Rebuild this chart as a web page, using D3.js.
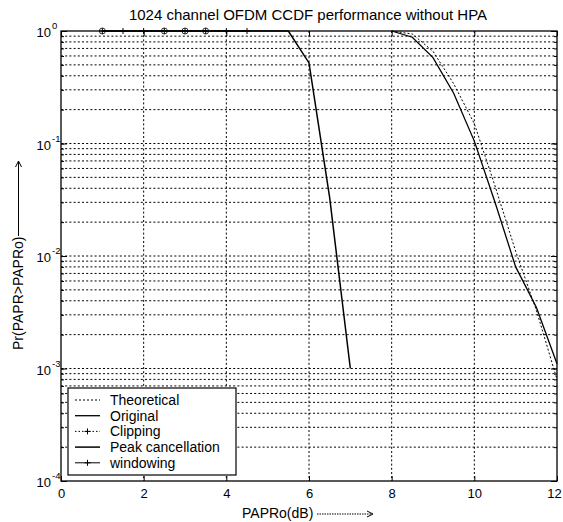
<!DOCTYPE html>
<html lang="en">
<head>
<meta charset="UTF-8">
<title>1024 channel OFDM CCDF performance without HPA</title>
<script src="https://d3js.org/d3.v7.min.js"></script>
<style>
    body { margin: 0; background: #fff; }
    svg text { font-family: "Liberation Sans", Arial, sans-serif; fill: #000; }
    .grid line { stroke: #000; stroke-width: 1; stroke-dasharray: 2,2.2; }
</style>
</head>
<body>
<svg id="chart" width="563" height="522"></svg>
<script>
// values (PAPRo in dB, probability)
const xPeak = [1, 1.5, 2, 2.5, 3, 3.5, 4, 4.5, 5, 5.5, 6, 6.5, 7];
const yPeak = [1, 1, 1, 1, 1, 1, 1, 1, 1, 1, 0.52, 0.033, 0.001];

const xClip = [1, 1.5, 2, 2.5, 3, 3.5, 4, 4.5];
const yClip = [1, 1, 1, 1, 1, 1, 1, 1];

const xWin = [1, 1.5, 2, 2.5, 3, 3.5, 4, 4.5];
const yWin = [1, 1, 1, 1, 1, 1, 1, 1];

const xOrig = [8, 8.5, 9, 9.5, 10, 10.5, 11, 11.5, 12];
const yOrig = [1, 0.88, 0.58, 0.28, 0.105, 0.03, 0.008, 0.0035, 0.0011];

const xTheo = [8, 8.5, 9, 9.5, 10, 10.5, 11, 11.5, 12];
const yTheo = [1, 0.94, 0.66, 0.34, 0.15, 0.042, 0.011, 0.0033, 0.0008];

const xTicks = [0, 2, 4, 6, 8, 10, 12];
const yDecades = [0, -1, -2, -3, -4];
const legendNames = ["Theoretical", "Original", "Clipping", "Peak cancellation", "windowing"];

const svg = d3.select("#chart");
const pLeft = 61, pRight = 557, pTop = 31, pBottom = 481;

const x = d3.scaleLinear().domain([0, 12]).range([pLeft, pRight]);
const y = d3.scaleLog().domain([1e-4, 1]).range([pBottom, pTop]);

// minor log ticks
const minor = [];
for (let k = -4; k < 0; k++) {
    for (let m = 1; m < 10; m++) minor.push(m * Math.pow(10, k));
}
minor.push(1);

// grid
const grid = svg.append("g").attr("class", "grid");
grid.selectAll("line.h").data(minor.filter(v => v > 1e-4 && v < 1)).enter().append("line")
    .attr("x1", pLeft).attr("x2", pRight)
    .attr("y1", d => y(d)).attr("y2", d => y(d));
grid.selectAll("line.v").data(xTicks.slice(1, -1)).enter().append("line")
    .attr("y1", pTop).attr("y2", pBottom)
    .attr("x1", d => x(d)).attr("x2", d => x(d));

// axes with ticks on all sides
const axB = d3.axisBottom(x).tickValues(xTicks).tickSize(-5).tickPadding(8).tickFormat(d3.format("d"));
const axT = d3.axisTop(x).tickValues(xTicks).tickSize(-5).tickFormat("");
const gB = svg.append("g").attr("transform", `translate(0,${pBottom})`).call(axB);
svg.append("g").attr("transform", `translate(0,${pTop})`).call(axT);

const axL = d3.axisLeft(y).tickValues(minor).tickSize(-3).tickFormat("");
const axR = d3.axisRight(y).tickValues(minor).tickSize(-3).tickFormat("");
svg.append("g").attr("transform", `translate(${pLeft},0)`).call(axL);
svg.append("g").attr("transform", `translate(${pRight},0)`).call(axR);
const majL = d3.axisLeft(y).tickValues(yDecades.map(k => Math.pow(10, k))).tickSize(-6).tickFormat("");
const majR = d3.axisRight(y).tickValues(yDecades.map(k => Math.pow(10, k))).tickSize(-6).tickFormat("");
svg.append("g").attr("transform", `translate(${pLeft},0)`).call(majL);
svg.append("g").attr("transform", `translate(${pRight},0)`).call(majR);

svg.selectAll(".domain").remove();
svg.selectAll(".tick line").attr("stroke", "#000");
gB.selectAll("text").attr("font-size", 13).attr("fill", "#000")
    .style("font-family", "'Liberation Sans', Arial, sans-serif")
    .attr("dx", d => d === 12 ? -3 : 0);

// y tick labels 10^k
const yl = svg.append("g");
yDecades.forEach(k => {
    yl.append("text").attr("x", 51).attr("y", y(Math.pow(10, k)) + 6)
        .attr("text-anchor", "end").attr("font-size", 13).text("10");
    yl.append("text").attr("x", 52).attr("y", y(Math.pow(10, k)) - 2)
        .attr("font-size", 9.5).text(k);
});

// frame
svg.append("rect").attr("x", pLeft).attr("y", pTop)
    .attr("width", pRight - pLeft).attr("height", pBottom - pTop)
    .attr("fill", "none").attr("stroke", "#000").attr("stroke-width", 1.3);

// curves
const line = d3.line().x(d => x(d[0])).y(d => y(d[1]));
const zip = (a, b) => a.map((v, i) => [v, b[i]]);

const plot = svg.append("g");
plot.append("path").datum(zip(xTheo, yTheo)).attr("d", line)
    .attr("fill", "none").attr("stroke", "#000").attr("stroke-width", 1).attr("stroke-dasharray", "2,2");
plot.append("path").datum(zip(xOrig, yOrig)).attr("d", line)
    .attr("fill", "none").attr("stroke", "#000").attr("stroke-width", 1.3);
plot.append("path").datum(zip(xPeak, yPeak)).attr("d", line)
    .attr("fill", "none").attr("stroke", "#000").attr("stroke-width", 1.5);
plot.append("path").datum(zip(xClip, yClip)).attr("d", line)
    .attr("fill", "none").attr("stroke", "#000").attr("stroke-width", 1).attr("stroke-dasharray", "2,2");
plot.append("path").datum(zip(xWin, yWin)).attr("d", line)
    .attr("fill", "none").attr("stroke", "#000").attr("stroke-width", 1);

const plus = (g, cx, cy) => {
    g.append("path").attr("d", `M${cx - 3},${cy}H${cx + 3}M${cx},${cy - 3}V${cy + 3}`)
        .attr("stroke", "#000").attr("stroke-width", 1);
};
zip(xClip, yClip).forEach(d => plus(plot, x(d[0]), y(d[1])));
const ringed = [0, 3, 4, 5];
zip(xWin, yWin).forEach((d, i) => {
    if (ringed.includes(i)) plot.append("circle").attr("cx", x(d[0])).attr("cy", y(d[1]))
        .attr("r", 3).attr("fill", "none").attr("stroke", "#000").attr("stroke-width", 0.8);
});

// legend
const lg = svg.append("g");
lg.append("rect").attr("x", 68).attr("y", 388).attr("width", 168).attr("height", 87)
    .attr("fill", "#fff").attr("stroke", "#000").attr("stroke-width", 1.2);
const rowY = i => 400 + i * 15.7;
const styles = [
    { dash: "2,2", w: 1, mark: false },
    { dash: null, w: 1.3, mark: false },
    { dash: "1.5,2", w: 1, mark: true },
    { dash: null, w: 1.5, mark: false },
    { dash: null, w: 1, mark: true }
];
legendNames.forEach((name, i) => {
    const s = styles[i];
    const l = lg.append("line").attr("x1", 75).attr("x2", 100)
        .attr("y1", rowY(i)).attr("y2", rowY(i))
        .attr("stroke", "#000").attr("stroke-width", s.w);
    if (s.dash) l.attr("stroke-dasharray", s.dash);
    if (s.mark) plus(lg, 87.5, rowY(i));
    lg.append("text").attr("x", 110).attr("y", rowY(i) + 5)
        .attr("font-size", 14).text(name);
});

// title
svg.append("text").attr("x", 308).attr("y", 20).attr("text-anchor", "middle")
    .attr("font-size", 15).text("1024 channel OFDM CCDF performance without HPA");

// x label with arrow
svg.append("text").attr("x", 242).attr("y", 518).attr("font-size", 14).text("PAPRo(dB)");
svg.append("line").attr("x1", 317).attr("x2", 372).attr("y1", 514).attr("y2", 514)
    .attr("stroke", "#000").attr("stroke-width", 1).attr("stroke-dasharray", "1.5,1");
svg.append("path").attr("d", "M367,511L373,514L367,517").attr("fill", "none")
    .attr("stroke", "#000").attr("stroke-width", 1);

// y label with arrow
const yg = svg.append("g").attr("transform", "translate(23,350) rotate(-90)");
yg.append("text").attr("x", 0).attr("y", 0).attr("font-size", 14).text("Pr(PAPR>PAPRo)");
yg.append("line").attr("x1", 114).attr("x2", 188).attr("y1", -4.5).attr("y2", -4.5)
    .attr("stroke", "#000").attr("stroke-width", 1);
yg.append("path").attr("d", "M183,-7.5L189,-4.5L183,-1.5").attr("fill", "none")
    .attr("stroke", "#000").attr("stroke-width", 1);
</script>
</body>
</html>
